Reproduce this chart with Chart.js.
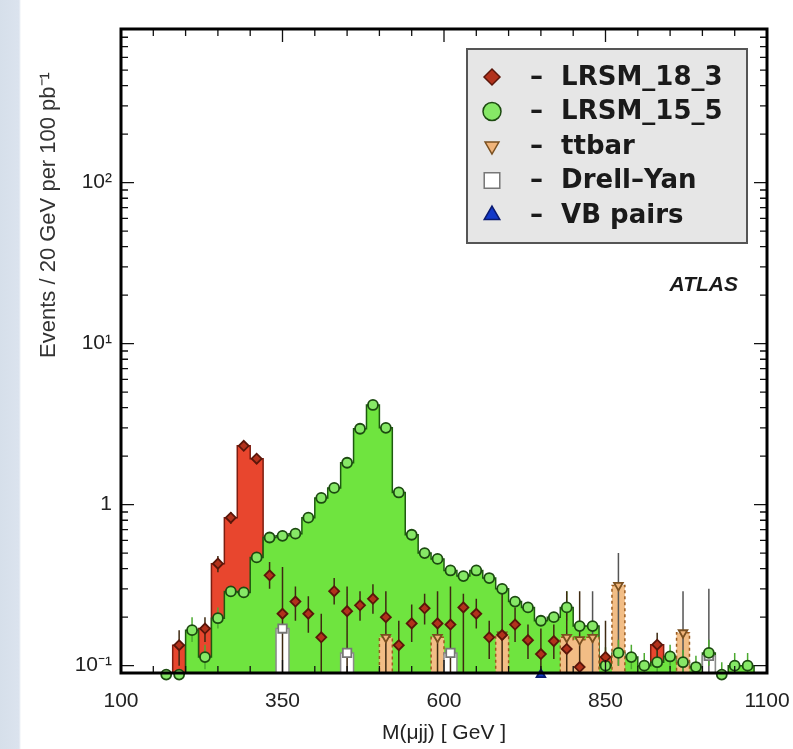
<!DOCTYPE html>
<html>
<head>
<meta charset="utf-8">
<script src="https://cdn.jsdelivr.net/npm/chart.js@4.4.1/dist/chart.umd.min.js"></script>
<style>
  html, body { margin: 0; padding: 0; }
  body {
    width: 793px;
    height: 749px;
    overflow: hidden;
    background: linear-gradient(to right, #d6dfea 0, #dbe3ee 19px, #ffffff 21px);
  }
  #wrap { position: relative; width: 793px; height: 749px; }
</style>
</head>
<body>
<div id="wrap"><canvas id="massChart"></canvas></div>
<script>
// lower edges of the 20 GeV bins
const binEdges = [
    100, 120, 140, 160, 180, 200, 220, 240, 260, 280,
    300, 320, 340, 360, 380, 400, 420, 440, 460, 480,
    500, 520, 540, 560, 580, 600, 620, 640, 660, 680,
    700, 720, 740, 760, 780, 800, 820, 840, 860, 880,
    900, 920, 940, 960, 980, 1000, 1020, 1040, 1060, 1080,
];
const binWidth = 20;

// events per bin (null = nothing drawn)
const lrsm18 = [
    null, null, null, null, 0.134, null, 0.17, 0.43, 0.83, 2.32,
    1.93, 0.364, 0.21, 0.25, 0.21, 0.15, 0.29, 0.218, 0.237, 0.26,
    0.20, 0.134, 0.183, 0.227, 0.183, 0.18, 0.23, 0.21, 0.15, 0.155,
    0.18, 0.144, 0.118, 0.142, 0.127, 0.098, null, 0.113, null, null,
    null, 0.135, null, null, null, null, null, null, null, null,
];
const lrsm15 = [
    null, null, null, 0.088, 0.088, 0.166, 0.113, 0.197, 0.289, 0.285,
    0.47, 0.625, 0.64, 0.66, 0.83, 1.10, 1.27, 1.82, 2.96, 4.16,
    3.0, 1.19, 0.65, 0.50, 0.46, 0.39, 0.36, 0.39, 0.35, 0.30,
    0.25, 0.23, 0.19, 0.20, 0.23, 0.176, 0.176, 0.10, 0.12, 0.113,
    0.10, 0.105, 0.114, 0.105, 0.098, 0.12, 0.088, 0.10, 0.10, null,
];
const ttbar = [
    null, null, null, null, null, null, null, null, null, null,
    null, null, null, null, null, null, null, null, null, null,
    0.15, null, null, null, 0.15, null, null, null, null, 0.155,
    null, null, null, null, 0.15, 0.145, 0.15, null, 0.315, null,
    null, null, null, 0.16, null, null, null, null, null, null,
];
const drellYan = [
    null, null, null, null, null, null, null, null, null, null,
    null, null, 0.17, null, null, null, null, 0.12, null, null,
    null, null, null, null, null, 0.12, null, null, null, null,
    null, null, null, null, null, null, null, null, null, null,
    null, null, null, null, null, 0.115, null, null, null, null,
];
const vbPairs = [
    null, null, null, null, null, null, null, null, null, null,
    null, null, null, null, null, null, null, null, null, null,
    null, null, null, null, null, null, null, null, null, null,
    null, null, 0.088, null, null, null, null, null, null, null,
    null, null, null, null, null, null, null, null, null, null,
];

// error bars: bin index, lower and upper end
const lrsm18ErrBins = [4, 6, 7, 8, 9, 10, 11, 12, 13, 14, 15, 16, 17, 18, 19, 20, 21, 22, 23, 24, 25, 26, 27, 28, 29, 30, 31, 32, 33, 34, 35, 37, 41];
const lrsm18ErrLo = [0.10, 0.14, 0.38, 0.76, 2.2, 1.8, 0.30, 0.085, 0.19, 0.16, 0.085, 0.24, 0.085, 0.19, 0.21, 0.085, 0.085, 0.14, 0.18, 0.085, 0.085, 0.085, 0.17, 0.11, 0.085, 0.14, 0.11, 0.085, 0.11, 0.085, 0.085, 0.085, 0.11];
const lrsm18ErrHi = [0.166, 0.2, 0.48, 0.9, 2.45, 2.05, 0.44, 0.41, 0.31, 0.27, 0.21, 0.35, 0.31, 0.29, 0.32, 0.29, 0.19, 0.24, 0.28, 0.29, 0.31, 0.28, 0.26, 0.19, 0.29, 0.23, 0.18, 0.17, 0.18, 0.29, 0.29, 0.19, 0.16];
const lrsm15ErrBins = [5, 6, 7, 34, 37, 38, 39, 40, 41, 42, 43, 44, 45, 46, 47, 48];
const lrsm15ErrLo = [0.14, 0.095, 0.17, 0.19, 0.085, 0.1, 0.095, 0.085, 0.09, 0.095, 0.09, 0.085, 0.1, 0.085, 0.085, 0.085];
const lrsm15ErrHi = [0.2, 0.135, 0.23, 0.29, 0.13, 0.145, 0.135, 0.12, 0.125, 0.135, 0.125, 0.115, 0.145, 0.105, 0.12, 0.12];
const bkgErrBins = [36, 38, 43, 45];
const bkgErrLo = [0.085, 0.1, 0.085, 0.085];
const bkgErrHi = [0.29, 0.50, 0.29, 0.30];

const xTickValues = [100, 350, 600, 850, 1100];
const yTickValues = [0.1, 1, 10, 100];
const yTickLabels = ['10\u207B\u00B9', '1', '10\u00B9', '10\u00B2'];
const xTitle = 'M(\u03BCjj) [ GeV ]';
const yTitle = 'Events / 20 GeV per 100 pb\u207B\u00B9';
const legendLabels = ['LRSM_18_3', 'LRSM_15_5', 'ttbar', 'Drell\u2013Yan', 'VB pairs'];

const FONT = '"Liberation Sans", Arial, sans-serif';
const FLOOR = 0.01;

function histPoints(values) {
    const pts = values.map((v, i) => ({ x: binEdges[i], y: v === null ? FLOOR : v }));
    pts.push({ x: binEdges[binEdges.length - 1] + binWidth, y: FLOOR });
    return pts;
}

function markerPoints(values) {
    const pts = [];
    values.forEach((v, i) => {
        if (v !== null) {
            pts.push({ x: binEdges[i] + binWidth / 2, y: v });
        }
    });
    return pts;
}

function errorPoints(bins, lo, hi) {
    const pts = [];
    bins.forEach((b, k) => {
        const c = binEdges[b] + binWidth / 2;
        pts.push({ x: c, y: lo[k] }, { x: c, y: hi[k] }, { x: c, y: null });
    });
    return pts;
}

function histDataset(label, values, fill, border, order, dash) {
    return {
        type: 'line',
        label: label,
        data: histPoints(values),
        stepped: true,
        fill: 'start',
        backgroundColor: fill,
        borderColor: border,
        borderWidth: 1.5,
        borderDash: dash || [],
        pointRadius: 0,
        order: order,
    };
}

function errorDataset(label, points, color, order) {
    return {
        type: 'line',
        label: label,
        data: points,
        borderColor: color,
        borderWidth: 1.5,
        pointRadius: 0,
        fill: false,
        spanGaps: false,
        order: order,
    };
}

function markerDataset(label, values, style, fill, border, radius, order, rotation) {
    return {
        type: 'scatter',
        label: label,
        data: markerPoints(values),
        pointStyle: style,
        pointRadius: radius,
        pointRotation: rotation || 0,
        pointBackgroundColor: fill,
        pointBorderColor: border,
        pointBorderWidth: 1.8,
        showLine: false,
        clip: false,
        order: order,
    };
}

const markerSets = [
    markerDataset('LRSM_18_3', lrsm18, 'rectRot', '#b2321c', '#5a160a', 5, 1),
    markerDataset('LRSM_15_5', lrsm15, 'circle', '#86e866', '#1c4a10', 5, 2),
    markerDataset('ttbar', ttbar, 'triangle', '#f0b47a', '#7a5020', 5, 3, 180),
    markerDataset('Drell-Yan', drellYan, 'rect', '#ffffff', '#777777', 6, 4),
    markerDataset('VB pairs', vbPairs, 'triangle', '#1238c8', '#0a1a70', 5, 0),
];
const legendRadius = [8, 9, 8, 11, 9];

// inward ticks on all four sides plus the black frame
const frameTicks = {
    id: 'frameTicks',
    afterDatasetsDraw(chart) {
        const { ctx, chartArea: a, scales: { x, y } } = chart;
        ctx.save();
        ctx.strokeStyle = '#111';
        ctx.lineWidth = 1.3;
        ctx.beginPath();
        for (let v = 100; v <= 1100; v += 50) {
            const px = x.getPixelForValue(v);
            const len = (v - 100) % 250 === 0 ? 13 : 7;
            ctx.moveTo(px, a.top); ctx.lineTo(px, a.top + len);
            ctx.moveTo(px, a.bottom); ctx.lineTo(px, a.bottom - len);
        }
        [0.1, 1, 10, 100].forEach((d) => {
            for (let m = 1; m <= 9; m++) {
                const v = d * m;
                if (v < y.min || v > y.max) continue;
                const py = y.getPixelForValue(v);
                const len = m === 1 ? 13 : 7;
                ctx.moveTo(a.left, py); ctx.lineTo(a.left + len, py);
                ctx.moveTo(a.right, py); ctx.lineTo(a.right - len, py);
            }
        });
        ctx.stroke();
        ctx.lineWidth = 3;
        ctx.strokeStyle = '#000';
        ctx.strokeRect(a.left, a.top, a.right - a.left, a.bottom - a.top);
        ctx.restore();
    },
};

// legend box, ATLAS tag and rotated y title
const annotations = {
    id: 'annotations',
    afterDraw(chart) {
        const { ctx, chartArea: a } = chart;
        ctx.save();

        const boxLeft = a.left + 346;
        const boxTop = a.top + 20;
        const boxW = 280;
        const boxH = 194;
        ctx.fillStyle = '#e6e6e6';
        ctx.fillRect(boxLeft, boxTop, boxW, boxH);
        ctx.strokeStyle = '#555';
        ctx.lineWidth = 2;
        ctx.strokeRect(boxLeft, boxTop, boxW, boxH);

        const drawPoint = Chart.helpers && Chart.helpers.drawPoint;
        ctx.font = 'bold 26px "DejaVu Sans", ' + FONT;
        ctx.textBaseline = 'middle';
        legendLabels.forEach((label, i) => {
            const ds = markerSets[i];
            const rowY = boxTop + 28 + i * 34.5;
            const mx = boxLeft + 25;
            ctx.fillStyle = ds.pointBackgroundColor;
            ctx.strokeStyle = ds.pointBorderColor;
            ctx.lineWidth = 1.5;
            if (drawPoint) {
                drawPoint(ctx, {
                    pointStyle: ds.pointStyle,
                    radius: legendRadius[i],
                    rotation: ds.pointRotation,
                    borderWidth: 1.5,
                }, mx, rowY);
            }
            ctx.fillStyle = '#1a1a1a';
            ctx.fillText('\u2013  ' + label, boxLeft + 63, rowY + 1);
        });

        ctx.font = 'italic bold 21px ' + FONT;
        ctx.fillStyle = '#1a1a1a';
        ctx.textAlign = 'right';
        ctx.fillText('ATLAS', a.left + 617, a.top + 256);

        ctx.translate(49, 215);
        ctx.rotate(-Math.PI / 2);
        ctx.textAlign = 'center';
        ctx.font = '22px ' + FONT;
        ctx.fillStyle = '#333';
        ctx.fillText(yTitle, 0, 0);
        ctx.restore();
    },
};

const ctx = document.getElementById('massChart').getContext('2d');
new Chart(ctx, {
    type: 'scatter',
    data: {
        datasets: [
            histDataset('LRSM_18_3 hist', lrsm18, '#e8462e', '#7d1d10', 20),
            histDataset('LRSM_15_5 hist', lrsm15, '#6fe43f', '#1e5a10', 19),
            histDataset('Drell-Yan hist', drellYan, '#ffffff', '#8a8a8a', 17),
            histDataset('ttbar hist', ttbar, '#f2bd85', '#9a5a1e', 18, [3, 3]),
            errorDataset('bkg err', errorPoints(bkgErrBins, bkgErrLo, bkgErrHi), '#555555', 8),
            errorDataset('LRSM_15_5 err', errorPoints(lrsm15ErrBins, lrsm15ErrLo, lrsm15ErrHi), '#4caa30', 7),
            errorDataset('LRSM_18_3 err', errorPoints(lrsm18ErrBins, lrsm18ErrLo, lrsm18ErrHi), '#3e2a12', 6),
            ...markerSets,
        ],
    },
    options: {
        responsive: true,
        maintainAspectRatio: false,
        animation: false,
        events: [],
        layout: { padding: { left: 0, top: 29, right: 26, bottom: 0 } },
        plugins: {
            legend: { display: false },
            tooltip: { enabled: false },
        },
        scales: {
            x: {
                type: 'linear',
                min: 100,
                max: 1100,
                afterBuildTicks: (s) => { s.ticks = xTickValues.map((v) => ({ value: v })); },
                afterFit: (s) => {
                    s.height = 76;
                    s.paddingLeft = 0;
                    s.paddingRight = 0;
                },
                grid: { display: false, drawTicks: false },
                border: { display: false },
                ticks: {
                    autoSkip: false,
                    maxRotation: 0,
                    padding: 16,
                    color: '#222',
                    font: { family: FONT, size: 21 },
                    callback: (v) => String(v),
                },
                title: {
                    display: true,
                    text: xTitle,
                    color: '#222',
                    font: { family: FONT, size: 21 },
                    padding: { top: 0, bottom: 3 },
                },
            },
            y: {
                type: 'logarithmic',
                min: 0.09,
                max: 900,
                afterBuildTicks: (s) => { s.ticks = yTickValues.map((v) => ({ value: v })); },
                afterFit: (s) => {
                    s.width = 121;
                    s.paddingTop = 0;
                    s.paddingBottom = 0;
                },
                grid: { display: false, drawTicks: false },
                border: { display: false },
                ticks: {
                    autoSkip: false,
                    padding: 9,
                    color: '#222',
                    font: { family: FONT, size: 21 },
                    callback: (v) => {
                        const k = yTickValues.indexOf(v);
                        return k >= 0 ? yTickLabels[k] : '';
                    },
                },
            },
        },
    },
    plugins: [frameTicks, annotations],
});
</script>
</body>
</html>
